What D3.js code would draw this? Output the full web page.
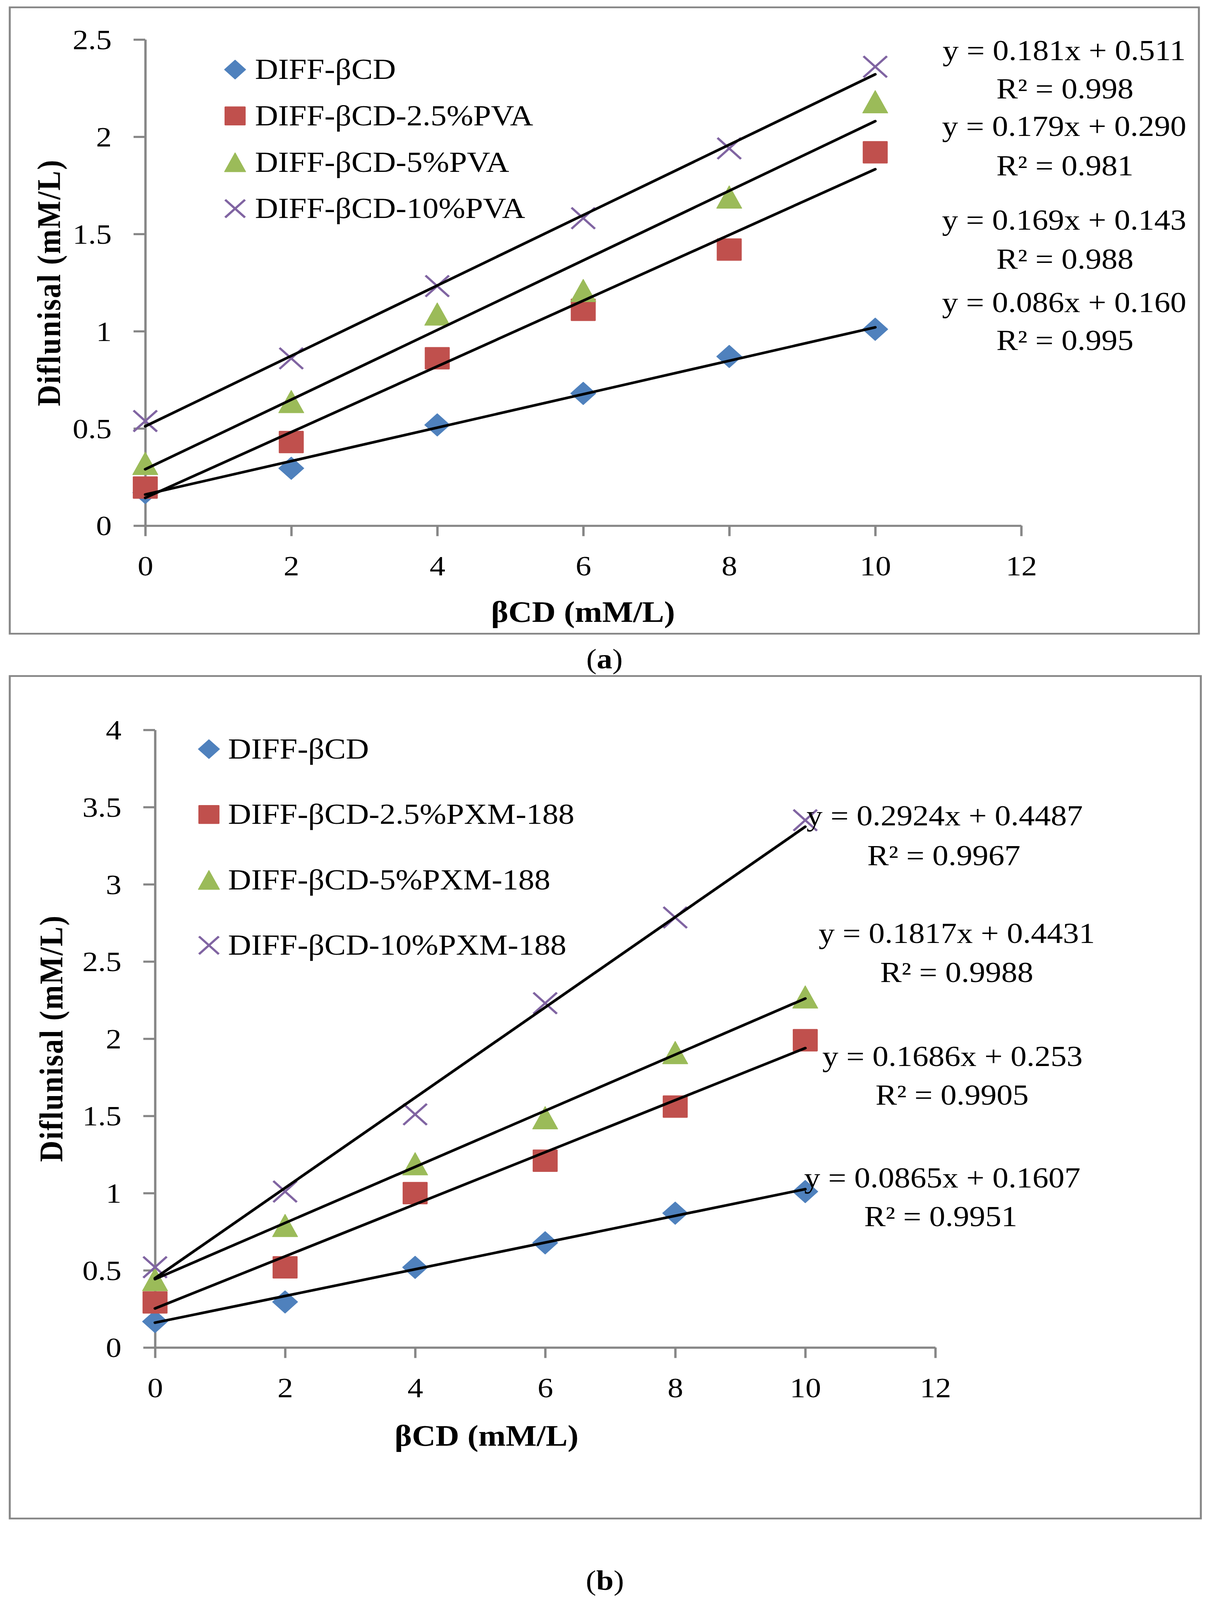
<!DOCTYPE html>
<html>
<head>
<meta charset="utf-8">
<script src="https://cdn.jsdelivr.net/npm/d3@7.8.5/dist/d3.min.js"></script>
<style>
  html, body { margin: 0; padding: 0; background: #fff; width: 100%; height: 100%; overflow: hidden; }
  #chart { width: 100vw; height: 100vh; }
  svg { display: block; width: 100%; height: 100%; }
  text { font-family: "Liberation Serif", "Times New Roman", serif; fill: #000; }
</style>
</head>
<body>
<div id="chart"></div>
<script>
// ---- data ----
const xValues = [0, 2, 4, 6, 8, 10];
const xTicks = [0, 2, 4, 6, 8, 10, 12];

const seriesA = ["DIFF-βCD", "DIFF-βCD-2.5%PVA", "DIFF-βCD-5%PVA", "DIFF-βCD-10%PVA"];
const valuesA = [
  [0.17, 0.295, 0.518, 0.68, 0.87, 1.01],
  [0.196, 0.43, 0.861, 1.11, 1.42, 1.92],
  [0.32, 0.638, 1.088, 1.209, 1.69, 2.18],
  [0.538, 0.86, 1.232, 1.581, 1.94, 2.36],
];
// slope, intercept of each trend line
const fitsA = [[0.086, 0.160], [0.169, 0.143], [0.179, 0.290], [0.181, 0.511]];
const eqTextA = [
  ["y = 0.086x + 0.160", "R² = 0.995"],
  ["y = 0.169x + 0.143", "R² = 0.988"],
  ["y = 0.179x + 0.290", "R² = 0.981"],
  ["y = 0.181x + 0.511", "R² = 0.998"],
];
const yTicksA = [0, 0.5, 1, 1.5, 2, 2.5];

const seriesB = ["DIFF-βCD", "DIFF-βCD-2.5%PXM-188", "DIFF-βCD-5%PXM-188", "DIFF-βCD-10%PXM-188"];
const valuesB = [
  [0.168, 0.295, 0.519, 0.678, 0.87, 1.01],
  [0.292, 0.519, 1.0, 1.21, 1.56, 1.99],
  [0.44, 0.79, 1.19, 1.488, 1.91, 2.27],
  [0.52, 1.01, 1.51, 2.23, 2.785, 3.415],
];
const fitsB = [[0.0865, 0.1607], [0.1686, 0.253], [0.1817, 0.4431], [0.2924, 0.4487]];
const eqTextB = [
  ["y = 0.0865x + 0.1607", "R² = 0.9951"],
  ["y = 0.1686x + 0.253", "R² = 0.9905"],
  ["y = 0.1817x + 0.4431", "R² = 0.9988"],
  ["y = 0.2924x + 0.4487", "R² = 0.9967"],
];
const yTicksB = [0, 0.5, 1, 1.5, 2, 2.5, 3, 3.5, 4];

const colors = ["#4F81BD", "#C0504D", "#9BBB59", "#8064A2"];
const shapes = ["diamond", "square", "triangle", "cross"];

// ---- layout ----
const W = 3101, H = 4575;
const gray = "#868686";

const panels = [
  {
    series: seriesA, values: valuesA, fits: fitsA, eqText: eqTextA, yTicks: yTicksA,
    yMax: 2.5, border: [25, 21, 3045, 1791],
    xRange: [372, 2615], yRange: [1503, 113],
    yTitle: [127, 808], xTitle: [1493, 1751],
    legend: { x: 602, tx: 653, y: 199, step: 132.5 },
    eqPos: [
      [[2725, 893], [2727, 1001]],
      [[2725, 657], [2727, 768]],
      [[2725, 389], [2727, 501]],
      [[2725, 172], [2727, 281]],
    ],
    caption: ["a", 1548, 1885],
  },
  {
    series: seriesB, values: valuesB, fits: fitsB, eqText: eqTextB, yTicks: yTicksB,
    yMax: 4, border: [25, 1933, 3050, 2409],
    xRange: [397, 2395], yRange: [3853, 2087],
    yTitle: [133, 2969], xTitle: [1246, 4107],
    legend: { x: 535, tx: 584, y: 2142, step: 187 },
    eqPos: [
      [[2413, 3396], [2409, 3506]],
      [[2439, 3048], [2438, 3159]],
      [[2450, 2696], [2450, 2808]],
      [[2419, 2360], [2417, 2474]],
    ],
    caption: ["b", 1549, 4520],
  },
];

// the drawing is laid out in a 3101x4575 box and stretched to whatever the window gives
const svg = d3.select("#chart").append("svg")
  .attr("viewBox", `0 0 ${W} ${H}`)
  .attr("preserveAspectRatio", "none");
svg.append("rect").attr("width", W).attr("height", H).attr("fill", "#fff");

function drawMarker(g, shape, color, r) {
  if (shape === "diamond") {
    g.append("path")
      .attr("d", `M0,${-r}L${r},0L0,${r}L${-r},0Z`)
      .attr("fill", color).attr("stroke", color).attr("stroke-width", 2)
      .attr("stroke-linejoin", "round");
  } else if (shape === "square") {
    g.append("rect")
      .attr("x", -r).attr("y", -r).attr("width", 2 * r).attr("height", 2 * r)
      .attr("rx", 2).attr("fill", color);
  } else if (shape === "triangle") {
    g.append("path")
      .attr("d", `M0,${-r}L${r},${r}L${-r},${r}Z`)
      .attr("fill", color).attr("stroke", color).attr("stroke-width", 2)
      .attr("stroke-linejoin", "round");
  } else {
    const c = r * 0.94;
    g.append("path")
      .attr("d", `M${-c},${-c}L${c},${c}M${-c},${c}L${c},${-c}`)
      .attr("stroke", color).attr("stroke-width", 6).attr("fill", "none");
  }
}

function drawPanel(p) {
  const g = svg.append("g");
  const [bx, by, bw, bh] = p.border;
  g.append("rect")
    .attr("x", bx).attr("y", by).attr("width", bw).attr("height", bh)
    .attr("fill", "none").attr("stroke", gray).attr("stroke-width", 5);

  const x = d3.scaleLinear().domain([0, 12]).range(p.xRange);
  const y = d3.scaleLinear().domain([0, p.yMax]).range(p.yRange);

  // axes
  const xAxis = g.append("g")
    .attr("transform", `translate(0,${p.yRange[0]})`)
    .call(d3.axisBottom(x).tickValues(xTicks).tickSize(30).tickSizeOuter(0).tickPadding(55));
  const yAxis = g.append("g")
    .attr("transform", `translate(${p.xRange[0]},0)`)
    .call(d3.axisLeft(y).tickValues(p.yTicks).tickSize(30).tickSizeOuter(0).tickPadding(56)
      .tickFormat(d3.format("~g")));
  [xAxis, yAxis].forEach((a) => {
    a.select(".domain").attr("stroke", gray).attr("stroke-width", 6);
    a.selectAll(".tick line").attr("stroke", gray).attr("stroke-width", 6);
    a.selectAll(".tick text")
      .style("font-family", '"Liberation Serif", serif')
      .style("font-size", "80px").attr("fill", "#000");
  });
  yAxis.selectAll(".tick text").attr("dy", "0.34em");
  xAxis.selectAll(".tick text").attr("dy", "0.71em");

  // axis titles
  g.append("text")
    .attr("transform", `translate(${p.yTitle[0]},${p.yTitle[1]}) rotate(-90)`)
    .attr("text-anchor", "middle").attr("dy", "0.32em")
    .style("font-size", "84px").style("font-weight", "bold")
    .style("letter-spacing", "3px")
    .text("Diflunisal (mM/L)");
  g.append("text")
    .attr("x", p.xTitle[0]).attr("y", p.xTitle[1])
    .attr("text-anchor", "middle").attr("dy", "0.32em")
    .style("font-size", "84px").style("font-weight", "bold")
    .text("βCD (mM/L)");

  // markers
  p.values.forEach((vals, si) => {
    vals.forEach((v, i) => {
      const m = g.append("g")
        .attr("transform", `translate(${x(xValues[i])},${y(v)})`);
      drawMarker(m, shapes[si], colors[si], 32);
    });
  });

  // trend lines
  const line = d3.line().x((d) => x(d[0])).y((d) => y(d[1]));
  p.fits.forEach(([k, b]) => {
    const ends = [0, 10].map((xv) => [xv, k * xv + b]);
    g.append("path")
      .attr("d", line(ends))
      .attr("stroke", "#000").attr("stroke-width", 7.5)
      .attr("stroke-linecap", "round").attr("fill", "none");
  });

  // equation labels
  p.eqText.forEach((lines, si) => {
    lines.forEach((t, li) => {
      const [ex, ey] = p.eqPos[si][li];
      g.append("text")
        .attr("x", ex).attr("y", ey)
        .attr("text-anchor", "middle")
        .style("font-size", "82px")
        .text(t);
    });
  });

  // legend
  p.series.forEach((name, si) => {
    const cy = p.legend.y + si * p.legend.step;
    const m = g.append("g").attr("transform", `translate(${p.legend.x},${cy})`);
    drawMarker(m, shapes[si], colors[si], 27);
    g.append("text")
      .attr("x", p.legend.tx).attr("y", cy).attr("dy", "0.33em")
      .style("font-size", "82px")
      .text(name);
  });

  // caption
  const cap = svg.append("text")
    .attr("x", p.caption[1]).attr("y", p.caption[2]).attr("dy", "0.33em")
    .attr("text-anchor", "middle").style("font-size", "80px");
  cap.append("tspan").text("(");
  cap.append("tspan").style("font-weight", "bold").text(p.caption[0]);
  cap.append("tspan").text(")");
}

panels.forEach(drawPanel);
</script>
</body>
</html>
